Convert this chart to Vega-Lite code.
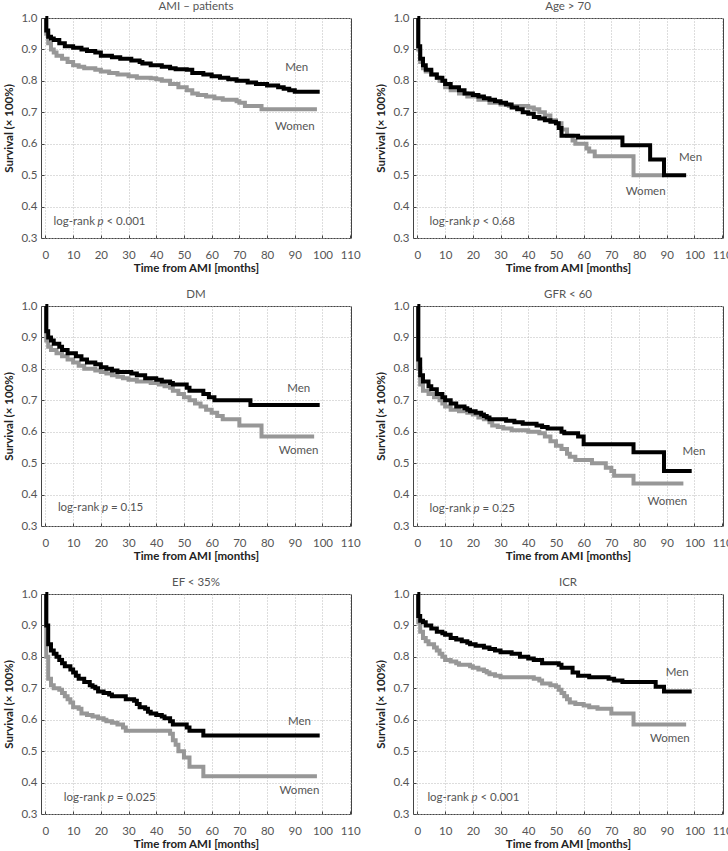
{
"$schema": "https://vega.github.io/schema/vega-lite/v6.json",
"padding": {"left": 3, "top": 0, "right": 5, "bottom": 0},
"background": "white",
"datasets": {"km": [
{"p":"AMI","g":"Women","t":0,"s":1},{"p":"AMI","g":"Women","t":0.3,"s":0.95},{"p":"AMI","g":"Women","t":1,"s":0.92},{"p":"AMI","g":"Women","t":2,"s":0.9},{"p":"AMI","g":"Women","t":3,"s":0.89},{"p":"AMI","g":"Women","t":4,"s":0.88},{"p":"AMI","g":"Women","t":6,"s":0.87},{"p":"AMI","g":"Women","t":8,"s":0.86},{"p":"AMI","g":"Women","t":10,"s":0.85},{"p":"AMI","g":"Women","t":12,"s":0.845},{"p":"AMI","g":"Women","t":14,"s":0.84},{"p":"AMI","g":"Women","t":18,"s":0.835},{"p":"AMI","g":"Women","t":20,"s":0.83},{"p":"AMI","g":"Women","t":23,"s":0.825},{"p":"AMI","g":"Women","t":26,"s":0.82},{"p":"AMI","g":"Women","t":30,"s":0.815},{"p":"AMI","g":"Women","t":33,"s":0.81},{"p":"AMI","g":"Women","t":38,"s":0.808},{"p":"AMI","g":"Women","t":40,"s":0.805},{"p":"AMI","g":"Women","t":42,"s":0.8},{"p":"AMI","g":"Women","t":45,"s":0.79},{"p":"AMI","g":"Women","t":48,"s":0.78},{"p":"AMI","g":"Women","t":51,"s":0.77},{"p":"AMI","g":"Women","t":53,"s":0.76},{"p":"AMI","g":"Women","t":55,"s":0.755},{"p":"AMI","g":"Women","t":58,"s":0.75},{"p":"AMI","g":"Women","t":61,"s":0.745},{"p":"AMI","g":"Women","t":64,"s":0.74},{"p":"AMI","g":"Women","t":69,"s":0.735},{"p":"AMI","g":"Women","t":70,"s":0.73},{"p":"AMI","g":"Women","t":72,"s":0.72},{"p":"AMI","g":"Women","t":78,"s":0.71},{"p":"AMI","g":"Women","t":98,"s":0.71},
{"p":"AMI","g":"Men","t":0,"s":1},{"p":"AMI","g":"Men","t":0.3,"s":0.96},{"p":"AMI","g":"Men","t":1,"s":0.94},{"p":"AMI","g":"Men","t":2,"s":0.935},{"p":"AMI","g":"Men","t":3,"s":0.93},{"p":"AMI","g":"Men","t":5,"s":0.92},{"p":"AMI","g":"Men","t":7,"s":0.91},{"p":"AMI","g":"Men","t":10,"s":0.905},{"p":"AMI","g":"Men","t":13,"s":0.9},{"p":"AMI","g":"Men","t":15,"s":0.895},{"p":"AMI","g":"Men","t":18,"s":0.89},{"p":"AMI","g":"Men","t":20,"s":0.88},{"p":"AMI","g":"Men","t":24,"s":0.875},{"p":"AMI","g":"Men","t":27,"s":0.87},{"p":"AMI","g":"Men","t":31,"s":0.865},{"p":"AMI","g":"Men","t":34,"s":0.86},{"p":"AMI","g":"Men","t":35,"s":0.855},{"p":"AMI","g":"Men","t":38,"s":0.85},{"p":"AMI","g":"Men","t":42,"s":0.845},{"p":"AMI","g":"Men","t":45,"s":0.84},{"p":"AMI","g":"Men","t":47,"s":0.837},{"p":"AMI","g":"Men","t":51,"s":0.835},{"p":"AMI","g":"Men","t":53,"s":0.825},{"p":"AMI","g":"Men","t":57,"s":0.82},{"p":"AMI","g":"Men","t":60,"s":0.815},{"p":"AMI","g":"Men","t":63,"s":0.81},{"p":"AMI","g":"Men","t":66,"s":0.805},{"p":"AMI","g":"Men","t":69,"s":0.8},{"p":"AMI","g":"Men","t":73,"s":0.795},{"p":"AMI","g":"Men","t":76,"s":0.79},{"p":"AMI","g":"Men","t":80,"s":0.785},{"p":"AMI","g":"Men","t":84,"s":0.78},{"p":"AMI","g":"Men","t":86,"s":0.775},{"p":"AMI","g":"Men","t":88,"s":0.77},{"p":"AMI","g":"Men","t":90,"s":0.765},{"p":"AMI","g":"Men","t":99,"s":0.765},
{"p":"Age","g":"Women","t":0,"s":1},{"p":"Age","g":"Women","t":0.3,"s":0.9},{"p":"Age","g":"Women","t":1,"s":0.86},{"p":"Age","g":"Women","t":2,"s":0.84},{"p":"Age","g":"Women","t":3,"s":0.83},{"p":"Age","g":"Women","t":5,"s":0.82},{"p":"Age","g":"Women","t":7,"s":0.81},{"p":"Age","g":"Women","t":8,"s":0.8},{"p":"Age","g":"Women","t":10,"s":0.78},{"p":"Age","g":"Women","t":12,"s":0.77},{"p":"Age","g":"Women","t":15,"s":0.76},{"p":"Age","g":"Women","t":18,"s":0.75},{"p":"Age","g":"Women","t":22,"s":0.74},{"p":"Age","g":"Women","t":26,"s":0.73},{"p":"Age","g":"Women","t":30,"s":0.725},{"p":"Age","g":"Women","t":33,"s":0.72},{"p":"Age","g":"Women","t":40,"s":0.715},{"p":"Age","g":"Women","t":42,"s":0.71},{"p":"Age","g":"Women","t":44,"s":0.7},{"p":"Age","g":"Women","t":46,"s":0.69},{"p":"Age","g":"Women","t":48,"s":0.675},{"p":"Age","g":"Women","t":50,"s":0.665},{"p":"Age","g":"Women","t":52,"s":0.645},{"p":"Age","g":"Women","t":54,"s":0.625},{"p":"Age","g":"Women","t":56,"s":0.61},{"p":"Age","g":"Women","t":57,"s":0.6},{"p":"Age","g":"Women","t":61,"s":0.585},{"p":"Age","g":"Women","t":62,"s":0.575},{"p":"Age","g":"Women","t":64,"s":0.56},{"p":"Age","g":"Women","t":78,"s":0.5},{"p":"Age","g":"Women","t":89,"s":0.5},
{"p":"Age","g":"Men","t":0,"s":1},{"p":"Age","g":"Men","t":0.3,"s":0.91},{"p":"Age","g":"Men","t":1,"s":0.87},{"p":"Age","g":"Men","t":2,"s":0.85},{"p":"Age","g":"Men","t":3,"s":0.835},{"p":"Age","g":"Men","t":5,"s":0.82},{"p":"Age","g":"Men","t":7,"s":0.81},{"p":"Age","g":"Men","t":9,"s":0.8},{"p":"Age","g":"Men","t":10,"s":0.79},{"p":"Age","g":"Men","t":12,"s":0.78},{"p":"Age","g":"Men","t":15,"s":0.77},{"p":"Age","g":"Men","t":17,"s":0.76},{"p":"Age","g":"Men","t":20,"s":0.755},{"p":"Age","g":"Men","t":22,"s":0.75},{"p":"Age","g":"Men","t":24,"s":0.745},{"p":"Age","g":"Men","t":26,"s":0.74},{"p":"Age","g":"Men","t":28,"s":0.735},{"p":"Age","g":"Men","t":30,"s":0.73},{"p":"Age","g":"Men","t":32,"s":0.725},{"p":"Age","g":"Men","t":34,"s":0.715},{"p":"Age","g":"Men","t":36,"s":0.71},{"p":"Age","g":"Men","t":38,"s":0.7},{"p":"Age","g":"Men","t":40,"s":0.695},{"p":"Age","g":"Men","t":42,"s":0.685},{"p":"Age","g":"Men","t":44,"s":0.68},{"p":"Age","g":"Men","t":46,"s":0.675},{"p":"Age","g":"Men","t":48,"s":0.67},{"p":"Age","g":"Men","t":50,"s":0.665},{"p":"Age","g":"Men","t":51,"s":0.65},{"p":"Age","g":"Men","t":52,"s":0.625},{"p":"Age","g":"Men","t":58,"s":0.62},{"p":"Age","g":"Men","t":74,"s":0.595},{"p":"Age","g":"Men","t":84,"s":0.55},{"p":"Age","g":"Men","t":89,"s":0.5},{"p":"Age","g":"Men","t":97,"s":0.5},
{"p":"DM","g":"Women","t":0,"s":1},{"p":"DM","g":"Women","t":0.3,"s":0.89},{"p":"DM","g":"Women","t":1,"s":0.87},{"p":"DM","g":"Women","t":2,"s":0.86},{"p":"DM","g":"Women","t":4,"s":0.85},{"p":"DM","g":"Women","t":6,"s":0.84},{"p":"DM","g":"Women","t":8,"s":0.83},{"p":"DM","g":"Women","t":10,"s":0.82},{"p":"DM","g":"Women","t":12,"s":0.81},{"p":"DM","g":"Women","t":14,"s":0.8},{"p":"DM","g":"Women","t":18,"s":0.795},{"p":"DM","g":"Women","t":20,"s":0.79},{"p":"DM","g":"Women","t":22,"s":0.785},{"p":"DM","g":"Women","t":24,"s":0.78},{"p":"DM","g":"Women","t":26,"s":0.775},{"p":"DM","g":"Women","t":28,"s":0.77},{"p":"DM","g":"Women","t":30,"s":0.765},{"p":"DM","g":"Women","t":33,"s":0.76},{"p":"DM","g":"Women","t":38,"s":0.755},{"p":"DM","g":"Women","t":41,"s":0.75},{"p":"DM","g":"Women","t":43,"s":0.745},{"p":"DM","g":"Women","t":45,"s":0.74},{"p":"DM","g":"Women","t":46,"s":0.73},{"p":"DM","g":"Women","t":48,"s":0.72},{"p":"DM","g":"Women","t":50,"s":0.71},{"p":"DM","g":"Women","t":52,"s":0.7},{"p":"DM","g":"Women","t":54,"s":0.69},{"p":"DM","g":"Women","t":56,"s":0.68},{"p":"DM","g":"Women","t":58,"s":0.67},{"p":"DM","g":"Women","t":60,"s":0.66},{"p":"DM","g":"Women","t":62,"s":0.65},{"p":"DM","g":"Women","t":64,"s":0.64},{"p":"DM","g":"Women","t":70,"s":0.62},{"p":"DM","g":"Women","t":78,"s":0.585},{"p":"DM","g":"Women","t":97,"s":0.585},
{"p":"DM","g":"Men","t":0,"s":1},{"p":"DM","g":"Men","t":0.3,"s":0.92},{"p":"DM","g":"Men","t":1,"s":0.9},{"p":"DM","g":"Men","t":2,"s":0.89},{"p":"DM","g":"Men","t":3,"s":0.88},{"p":"DM","g":"Men","t":5,"s":0.87},{"p":"DM","g":"Men","t":6,"s":0.86},{"p":"DM","g":"Men","t":8,"s":0.85},{"p":"DM","g":"Men","t":11,"s":0.84},{"p":"DM","g":"Men","t":13,"s":0.83},{"p":"DM","g":"Men","t":15,"s":0.82},{"p":"DM","g":"Men","t":18,"s":0.815},{"p":"DM","g":"Men","t":20,"s":0.805},{"p":"DM","g":"Men","t":22,"s":0.8},{"p":"DM","g":"Men","t":24,"s":0.795},{"p":"DM","g":"Men","t":26,"s":0.79},{"p":"DM","g":"Men","t":31,"s":0.785},{"p":"DM","g":"Men","t":33,"s":0.78},{"p":"DM","g":"Men","t":36,"s":0.77},{"p":"DM","g":"Men","t":40,"s":0.765},{"p":"DM","g":"Men","t":42,"s":0.76},{"p":"DM","g":"Men","t":45,"s":0.755},{"p":"DM","g":"Men","t":46,"s":0.75},{"p":"DM","g":"Men","t":51,"s":0.74},{"p":"DM","g":"Men","t":52,"s":0.73},{"p":"DM","g":"Men","t":57,"s":0.72},{"p":"DM","g":"Men","t":59,"s":0.71},{"p":"DM","g":"Men","t":61,"s":0.7},{"p":"DM","g":"Men","t":74,"s":0.685},{"p":"DM","g":"Men","t":99,"s":0.685},
{"p":"GFR","g":"Women","t":0,"s":1},{"p":"GFR","g":"Women","t":0.3,"s":0.8},{"p":"GFR","g":"Women","t":1,"s":0.75},{"p":"GFR","g":"Women","t":2,"s":0.73},{"p":"GFR","g":"Women","t":4,"s":0.72},{"p":"GFR","g":"Women","t":6,"s":0.71},{"p":"GFR","g":"Women","t":8,"s":0.7},{"p":"GFR","g":"Women","t":9,"s":0.69},{"p":"GFR","g":"Women","t":10,"s":0.68},{"p":"GFR","g":"Women","t":12,"s":0.67},{"p":"GFR","g":"Women","t":15,"s":0.665},{"p":"GFR","g":"Women","t":18,"s":0.66},{"p":"GFR","g":"Women","t":20,"s":0.655},{"p":"GFR","g":"Women","t":22,"s":0.645},{"p":"GFR","g":"Women","t":24,"s":0.64},{"p":"GFR","g":"Women","t":26,"s":0.63},{"p":"GFR","g":"Women","t":27,"s":0.62},{"p":"GFR","g":"Women","t":29,"s":0.615},{"p":"GFR","g":"Women","t":31,"s":0.61},{"p":"GFR","g":"Women","t":34,"s":0.605},{"p":"GFR","g":"Women","t":40,"s":0.6},{"p":"GFR","g":"Women","t":44,"s":0.595},{"p":"GFR","g":"Women","t":46,"s":0.585},{"p":"GFR","g":"Women","t":48,"s":0.57},{"p":"GFR","g":"Women","t":50,"s":0.555},{"p":"GFR","g":"Women","t":52,"s":0.545},{"p":"GFR","g":"Women","t":54,"s":0.53},{"p":"GFR","g":"Women","t":55,"s":0.52},{"p":"GFR","g":"Women","t":57,"s":0.51},{"p":"GFR","g":"Women","t":63,"s":0.5},{"p":"GFR","g":"Women","t":68,"s":0.485},{"p":"GFR","g":"Women","t":70,"s":0.475},{"p":"GFR","g":"Women","t":71,"s":0.46},{"p":"GFR","g":"Women","t":78,"s":0.435},{"p":"GFR","g":"Women","t":96,"s":0.435},
{"p":"GFR","g":"Men","t":0,"s":1},{"p":"GFR","g":"Men","t":0.3,"s":0.83},{"p":"GFR","g":"Men","t":1,"s":0.78},{"p":"GFR","g":"Men","t":2,"s":0.76},{"p":"GFR","g":"Men","t":4,"s":0.745},{"p":"GFR","g":"Men","t":5,"s":0.735},{"p":"GFR","g":"Men","t":7,"s":0.72},{"p":"GFR","g":"Men","t":9,"s":0.71},{"p":"GFR","g":"Men","t":10,"s":0.7},{"p":"GFR","g":"Men","t":12,"s":0.69},{"p":"GFR","g":"Men","t":14,"s":0.68},{"p":"GFR","g":"Men","t":17,"s":0.675},{"p":"GFR","g":"Men","t":18,"s":0.67},{"p":"GFR","g":"Men","t":19,"s":0.665},{"p":"GFR","g":"Men","t":21,"s":0.66},{"p":"GFR","g":"Men","t":23,"s":0.655},{"p":"GFR","g":"Men","t":24,"s":0.65},{"p":"GFR","g":"Men","t":25,"s":0.645},{"p":"GFR","g":"Men","t":26,"s":0.64},{"p":"GFR","g":"Men","t":32,"s":0.635},{"p":"GFR","g":"Men","t":35,"s":0.63},{"p":"GFR","g":"Men","t":38,"s":0.625},{"p":"GFR","g":"Men","t":43,"s":0.62},{"p":"GFR","g":"Men","t":45,"s":0.615},{"p":"GFR","g":"Men","t":47,"s":0.61},{"p":"GFR","g":"Men","t":52,"s":0.6},{"p":"GFR","g":"Men","t":53,"s":0.595},{"p":"GFR","g":"Men","t":58,"s":0.585},{"p":"GFR","g":"Men","t":60,"s":0.56},{"p":"GFR","g":"Men","t":78,"s":0.535},{"p":"GFR","g":"Men","t":89,"s":0.475},{"p":"GFR","g":"Men","t":99,"s":0.475},
{"p":"EF","g":"Women","t":0,"s":1},{"p":"EF","g":"Women","t":0.3,"s":0.8},{"p":"EF","g":"Women","t":1,"s":0.73},{"p":"EF","g":"Women","t":2,"s":0.71},{"p":"EF","g":"Women","t":3,"s":0.7},{"p":"EF","g":"Women","t":5,"s":0.695},{"p":"EF","g":"Women","t":6,"s":0.685},{"p":"EF","g":"Women","t":7,"s":0.675},{"p":"EF","g":"Women","t":8,"s":0.665},{"p":"EF","g":"Women","t":9,"s":0.655},{"p":"EF","g":"Women","t":10,"s":0.64},{"p":"EF","g":"Women","t":12,"s":0.635},{"p":"EF","g":"Women","t":13,"s":0.62},{"p":"EF","g":"Women","t":15,"s":0.615},{"p":"EF","g":"Women","t":17,"s":0.61},{"p":"EF","g":"Women","t":19,"s":0.605},{"p":"EF","g":"Women","t":21,"s":0.6},{"p":"EF","g":"Women","t":22,"s":0.595},{"p":"EF","g":"Women","t":24,"s":0.59},{"p":"EF","g":"Women","t":26,"s":0.585},{"p":"EF","g":"Women","t":28,"s":0.575},{"p":"EF","g":"Women","t":29,"s":0.565},{"p":"EF","g":"Women","t":45,"s":0.555},{"p":"EF","g":"Women","t":46,"s":0.535},{"p":"EF","g":"Women","t":47,"s":0.52},{"p":"EF","g":"Women","t":48,"s":0.5},{"p":"EF","g":"Women","t":50,"s":0.48},{"p":"EF","g":"Women","t":52,"s":0.45},{"p":"EF","g":"Women","t":57,"s":0.42},{"p":"EF","g":"Women","t":98,"s":0.42},
{"p":"EF","g":"Men","t":0,"s":1},{"p":"EF","g":"Men","t":0.3,"s":0.9},{"p":"EF","g":"Men","t":1,"s":0.84},{"p":"EF","g":"Men","t":2,"s":0.82},{"p":"EF","g":"Men","t":3,"s":0.81},{"p":"EF","g":"Men","t":4,"s":0.8},{"p":"EF","g":"Men","t":5,"s":0.79},{"p":"EF","g":"Men","t":6,"s":0.78},{"p":"EF","g":"Men","t":7,"s":0.77},{"p":"EF","g":"Men","t":9,"s":0.76},{"p":"EF","g":"Men","t":10,"s":0.75},{"p":"EF","g":"Men","t":11,"s":0.74},{"p":"EF","g":"Men","t":12,"s":0.73},{"p":"EF","g":"Men","t":14,"s":0.72},{"p":"EF","g":"Men","t":16,"s":0.71},{"p":"EF","g":"Men","t":17,"s":0.705},{"p":"EF","g":"Men","t":18,"s":0.7},{"p":"EF","g":"Men","t":19,"s":0.69},{"p":"EF","g":"Men","t":21,"s":0.685},{"p":"EF","g":"Men","t":23,"s":0.68},{"p":"EF","g":"Men","t":24,"s":0.675},{"p":"EF","g":"Men","t":29,"s":0.665},{"p":"EF","g":"Men","t":32,"s":0.66},{"p":"EF","g":"Men","t":33,"s":0.65},{"p":"EF","g":"Men","t":34,"s":0.64},{"p":"EF","g":"Men","t":36,"s":0.635},{"p":"EF","g":"Men","t":37,"s":0.625},{"p":"EF","g":"Men","t":38,"s":0.62},{"p":"EF","g":"Men","t":40,"s":0.615},{"p":"EF","g":"Men","t":42,"s":0.61},{"p":"EF","g":"Men","t":43,"s":0.605},{"p":"EF","g":"Men","t":45,"s":0.595},{"p":"EF","g":"Men","t":46,"s":0.585},{"p":"EF","g":"Men","t":51,"s":0.575},{"p":"EF","g":"Men","t":52,"s":0.565},{"p":"EF","g":"Men","t":57,"s":0.55},{"p":"EF","g":"Men","t":99,"s":0.55},
{"p":"ICR","g":"Women","t":0,"s":1},{"p":"ICR","g":"Women","t":0.3,"s":0.91},{"p":"ICR","g":"Women","t":1,"s":0.88},{"p":"ICR","g":"Women","t":2,"s":0.86},{"p":"ICR","g":"Women","t":3,"s":0.85},{"p":"ICR","g":"Women","t":4,"s":0.84},{"p":"ICR","g":"Women","t":6,"s":0.83},{"p":"ICR","g":"Women","t":7,"s":0.82},{"p":"ICR","g":"Women","t":8,"s":0.81},{"p":"ICR","g":"Women","t":9,"s":0.8},{"p":"ICR","g":"Women","t":10,"s":0.79},{"p":"ICR","g":"Women","t":12,"s":0.785},{"p":"ICR","g":"Women","t":14,"s":0.78},{"p":"ICR","g":"Women","t":15,"s":0.775},{"p":"ICR","g":"Women","t":19,"s":0.77},{"p":"ICR","g":"Women","t":20,"s":0.765},{"p":"ICR","g":"Women","t":22,"s":0.76},{"p":"ICR","g":"Women","t":24,"s":0.755},{"p":"ICR","g":"Women","t":25,"s":0.75},{"p":"ICR","g":"Women","t":26,"s":0.745},{"p":"ICR","g":"Women","t":28,"s":0.74},{"p":"ICR","g":"Women","t":30,"s":0.735},{"p":"ICR","g":"Women","t":42,"s":0.73},{"p":"ICR","g":"Women","t":44,"s":0.725},{"p":"ICR","g":"Women","t":45,"s":0.715},{"p":"ICR","g":"Women","t":48,"s":0.71},{"p":"ICR","g":"Women","t":50,"s":0.705},{"p":"ICR","g":"Women","t":51,"s":0.695},{"p":"ICR","g":"Women","t":52,"s":0.685},{"p":"ICR","g":"Women","t":53,"s":0.675},{"p":"ICR","g":"Women","t":54,"s":0.665},{"p":"ICR","g":"Women","t":55,"s":0.655},{"p":"ICR","g":"Women","t":57,"s":0.65},{"p":"ICR","g":"Women","t":60,"s":0.645},{"p":"ICR","g":"Women","t":62,"s":0.64},{"p":"ICR","g":"Women","t":65,"s":0.635},{"p":"ICR","g":"Women","t":70,"s":0.62},{"p":"ICR","g":"Women","t":78,"s":0.585},{"p":"ICR","g":"Women","t":97,"s":0.585},
{"p":"ICR","g":"Men","t":0,"s":1},{"p":"ICR","g":"Men","t":0.3,"s":0.93},{"p":"ICR","g":"Men","t":1,"s":0.915},{"p":"ICR","g":"Men","t":2,"s":0.91},{"p":"ICR","g":"Men","t":3,"s":0.9},{"p":"ICR","g":"Men","t":5,"s":0.89},{"p":"ICR","g":"Men","t":7,"s":0.88},{"p":"ICR","g":"Men","t":9,"s":0.875},{"p":"ICR","g":"Men","t":10,"s":0.87},{"p":"ICR","g":"Men","t":12,"s":0.86},{"p":"ICR","g":"Men","t":14,"s":0.855},{"p":"ICR","g":"Men","t":16,"s":0.85},{"p":"ICR","g":"Men","t":18,"s":0.845},{"p":"ICR","g":"Men","t":19,"s":0.84},{"p":"ICR","g":"Men","t":21,"s":0.835},{"p":"ICR","g":"Men","t":24,"s":0.83},{"p":"ICR","g":"Men","t":26,"s":0.825},{"p":"ICR","g":"Men","t":28,"s":0.82},{"p":"ICR","g":"Men","t":30,"s":0.815},{"p":"ICR","g":"Men","t":34,"s":0.81},{"p":"ICR","g":"Men","t":37,"s":0.8},{"p":"ICR","g":"Men","t":40,"s":0.795},{"p":"ICR","g":"Men","t":42,"s":0.79},{"p":"ICR","g":"Men","t":45,"s":0.78},{"p":"ICR","g":"Men","t":51,"s":0.775},{"p":"ICR","g":"Men","t":52,"s":0.765},{"p":"ICR","g":"Men","t":56,"s":0.75},{"p":"ICR","g":"Men","t":58,"s":0.74},{"p":"ICR","g":"Men","t":62,"s":0.735},{"p":"ICR","g":"Men","t":69,"s":0.73},{"p":"ICR","g":"Men","t":71,"s":0.725},{"p":"ICR","g":"Men","t":74,"s":0.72},{"p":"ICR","g":"Men","t":86,"s":0.705},{"p":"ICR","g":"Men","t":89,"s":0.69},{"p":"ICR","g":"Men","t":99,"s":0.69}
]},
"columns": 2,
"spacing": {"row": 68, "column": 62},
"bounds": "flush",
"concat": [
{"title": "AMI – patients", "width": 310, "height": 220, "layer": [
 {"data": {"name": "km"}, "transform": [{"filter": "datum.p === 'AMI'"}], "mark": {"type": "line", "interpolate": "step-after", "strokeWidth": 4}, "encoding": {"x": {"field": "t", "type": "quantitative", "title": "Time from AMI [months]", "scale": {"domain": [-1.6, 110.3], "nice": false}, "axis": {"values": [0,10,20,30,40,50,60,70,80,90,100,110], "tickCount": 12, "labelOverlap": false}}, "y": {"field": "s", "type": "quantitative", "title": "Survival (× 100%)", "scale": {"domain": [0.3, 1], "nice": false, "zero": false}, "axis": {"values": [0.3,0.4,0.5,0.6,0.7,0.8,0.9,1], "tickCount": 8, "format": ".1f", "labelOverlap": false}}, "color": {"field": "g", "type": "nominal", "scale": {"domain": ["Men", "Women"], "range": ["#000000", "#979797"]}, "legend": null}}},
 {"data": {"values": [{}]}, "mark": {"type": "text"}, "encoding": {"x": {"datum": 90.7}, "y": {"datum": 0.84}, "text": {"value": "Men"}}},
 {"data": {"values": [{}]}, "mark": {"type": "text"}, "encoding": {"x": {"datum": 90}, "y": {"datum": 0.652}, "text": {"value": "Women"}}},
 {"data": {"values": [{}]}, "mark": {"type": "text", "align": "left"}, "encoding": {"x": {"datum": 2.9}, "y": {"datum": 0.352}, "text": {"value": "log-rank"}}},
 {"data": {"values": [{}]}, "mark": {"type": "text", "align": "left", "fontStyle": "italic", "dx": 44}, "encoding": {"x": {"datum": 2.9}, "y": {"datum": 0.352}, "text": {"value": "p"}}},
 {"data": {"values": [{}]}, "mark": {"type": "text", "align": "left", "dx": 53}, "encoding": {"x": {"datum": 2.9}, "y": {"datum": 0.352}, "text": {"value": "< 0.001"}}}
]},
{"title": "Age > 70", "width": 310, "height": 220, "layer": [
 {"data": {"name": "km"}, "transform": [{"filter": "datum.p === 'Age'"}], "mark": {"type": "line", "interpolate": "step-after", "strokeWidth": 4}, "encoding": {"x": {"field": "t", "type": "quantitative", "title": "Time from AMI [months]", "scale": {"domain": [-1.6, 110.3], "nice": false}, "axis": {"values": [0,10,20,30,40,50,60,70,80,90,100,110], "tickCount": 12, "labelOverlap": false}}, "y": {"field": "s", "type": "quantitative", "title": "Survival (× 100%)", "scale": {"domain": [0.3, 1], "nice": false, "zero": false}, "axis": {"values": [0.3,0.4,0.5,0.6,0.7,0.8,0.9,1], "tickCount": 8, "format": ".1f", "labelOverlap": false}}, "color": {"field": "g", "type": "nominal", "scale": {"domain": ["Men", "Women"], "range": ["#000000", "#979797"]}, "legend": null}}},
 {"data": {"values": [{}]}, "mark": {"type": "text"}, "encoding": {"x": {"datum": 98.6}, "y": {"datum": 0.555}, "text": {"value": "Men"}}},
 {"data": {"values": [{}]}, "mark": {"type": "text"}, "encoding": {"x": {"datum": 82.4}, "y": {"datum": 0.447}, "text": {"value": "Women"}}},
 {"data": {"values": [{}]}, "mark": {"type": "text", "align": "left"}, "encoding": {"x": {"datum": 4.4}, "y": {"datum": 0.35}, "text": {"value": "log-rank"}}},
 {"data": {"values": [{}]}, "mark": {"type": "text", "align": "left", "fontStyle": "italic", "dx": 44}, "encoding": {"x": {"datum": 4.4}, "y": {"datum": 0.35}, "text": {"value": "p"}}},
 {"data": {"values": [{}]}, "mark": {"type": "text", "align": "left", "dx": 53}, "encoding": {"x": {"datum": 4.4}, "y": {"datum": 0.35}, "text": {"value": "< 0.68"}}}
]},
{"title": "DM", "width": 310, "height": 220, "layer": [
 {"data": {"name": "km"}, "transform": [{"filter": "datum.p === 'DM'"}], "mark": {"type": "line", "interpolate": "step-after", "strokeWidth": 4}, "encoding": {"x": {"field": "t", "type": "quantitative", "title": "Time from AMI [months]", "scale": {"domain": [-1.6, 110.3], "nice": false}, "axis": {"values": [0,10,20,30,40,50,60,70,80,90,100,110], "tickCount": 12, "labelOverlap": false}}, "y": {"field": "s", "type": "quantitative", "title": "Survival (× 100%)", "scale": {"domain": [0.3, 1], "nice": false, "zero": false}, "axis": {"values": [0.3,0.4,0.5,0.6,0.7,0.8,0.9,1], "tickCount": 8, "format": ".1f", "labelOverlap": false}}, "color": {"field": "g", "type": "nominal", "scale": {"domain": ["Men", "Women"], "range": ["#000000", "#979797"]}, "legend": null}}},
 {"data": {"values": [{}]}, "mark": {"type": "text"}, "encoding": {"x": {"datum": 91.4}, "y": {"datum": 0.736}, "text": {"value": "Men"}}},
 {"data": {"values": [{}]}, "mark": {"type": "text"}, "encoding": {"x": {"datum": 91.4}, "y": {"datum": 0.538}, "text": {"value": "Women"}}},
 {"data": {"values": [{}]}, "mark": {"type": "text", "align": "left"}, "encoding": {"x": {"datum": 4.5}, "y": {"datum": 0.358}, "text": {"value": "log-rank"}}},
 {"data": {"values": [{}]}, "mark": {"type": "text", "align": "left", "fontStyle": "italic", "dx": 44}, "encoding": {"x": {"datum": 4.5}, "y": {"datum": 0.358}, "text": {"value": "p"}}},
 {"data": {"values": [{}]}, "mark": {"type": "text", "align": "left", "dx": 53}, "encoding": {"x": {"datum": 4.5}, "y": {"datum": 0.358}, "text": {"value": "= 0.15"}}}
]},
{"title": "GFR < 60", "width": 310, "height": 220, "layer": [
 {"data": {"name": "km"}, "transform": [{"filter": "datum.p === 'GFR'"}], "mark": {"type": "line", "interpolate": "step-after", "strokeWidth": 4}, "encoding": {"x": {"field": "t", "type": "quantitative", "title": "Time from AMI [months]", "scale": {"domain": [-1.6, 110.3], "nice": false}, "axis": {"values": [0,10,20,30,40,50,60,70,80,90,100,110], "tickCount": 12, "labelOverlap": false}}, "y": {"field": "s", "type": "quantitative", "title": "Survival (× 100%)", "scale": {"domain": [0.3, 1], "nice": false, "zero": false}, "axis": {"values": [0.3,0.4,0.5,0.6,0.7,0.8,0.9,1], "tickCount": 8, "format": ".1f", "labelOverlap": false}}, "color": {"field": "g", "type": "nominal", "scale": {"domain": ["Men", "Women"], "range": ["#000000", "#979797"]}, "legend": null}}},
 {"data": {"values": [{}]}, "mark": {"type": "text"}, "encoding": {"x": {"datum": 99.8}, "y": {"datum": 0.537}, "text": {"value": "Men"}}},
 {"data": {"values": [{}]}, "mark": {"type": "text"}, "encoding": {"x": {"datum": 90.2}, "y": {"datum": 0.375}, "text": {"value": "Women"}}},
 {"data": {"values": [{}]}, "mark": {"type": "text", "align": "left"}, "encoding": {"x": {"datum": 4.4}, "y": {"datum": 0.353}, "text": {"value": "log-rank"}}},
 {"data": {"values": [{}]}, "mark": {"type": "text", "align": "left", "fontStyle": "italic", "dx": 44}, "encoding": {"x": {"datum": 4.4}, "y": {"datum": 0.353}, "text": {"value": "p"}}},
 {"data": {"values": [{}]}, "mark": {"type": "text", "align": "left", "dx": 53}, "encoding": {"x": {"datum": 4.4}, "y": {"datum": 0.353}, "text": {"value": "= 0.25"}}}
]},
{"title": "EF < 35%", "width": 310, "height": 220, "layer": [
 {"data": {"name": "km"}, "transform": [{"filter": "datum.p === 'EF'"}], "mark": {"type": "line", "interpolate": "step-after", "strokeWidth": 4}, "encoding": {"x": {"field": "t", "type": "quantitative", "title": "Time from AMI [months]", "scale": {"domain": [-1.6, 110.3], "nice": false}, "axis": {"values": [0,10,20,30,40,50,60,70,80,90,100,110], "tickCount": 12, "labelOverlap": false}}, "y": {"field": "s", "type": "quantitative", "title": "Survival (× 100%)", "scale": {"domain": [0.3, 1], "nice": false, "zero": false}, "axis": {"values": [0.3,0.4,0.5,0.6,0.7,0.8,0.9,1], "tickCount": 8, "format": ".1f", "labelOverlap": false}}, "color": {"field": "g", "type": "nominal", "scale": {"domain": ["Men", "Women"], "range": ["#000000", "#979797"]}, "legend": null}}},
 {"data": {"values": [{}]}, "mark": {"type": "text"}, "encoding": {"x": {"datum": 91.7}, "y": {"datum": 0.594}, "text": {"value": "Men"}}},
 {"data": {"values": [{}]}, "mark": {"type": "text"}, "encoding": {"x": {"datum": 91.7}, "y": {"datum": 0.374}, "text": {"value": "Women"}}},
 {"data": {"values": [{}]}, "mark": {"type": "text", "align": "left"}, "encoding": {"x": {"datum": 6.6}, "y": {"datum": 0.351}, "text": {"value": "log-rank"}}},
 {"data": {"values": [{}]}, "mark": {"type": "text", "align": "left", "fontStyle": "italic", "dx": 44}, "encoding": {"x": {"datum": 6.6}, "y": {"datum": 0.351}, "text": {"value": "p"}}},
 {"data": {"values": [{}]}, "mark": {"type": "text", "align": "left", "dx": 53}, "encoding": {"x": {"datum": 6.6}, "y": {"datum": 0.351}, "text": {"value": "= 0.025"}}}
]},
{"title": "ICR", "width": 310, "height": 220, "layer": [
 {"data": {"name": "km"}, "transform": [{"filter": "datum.p === 'ICR'"}], "mark": {"type": "line", "interpolate": "step-after", "strokeWidth": 4}, "encoding": {"x": {"field": "t", "type": "quantitative", "title": "Time from AMI [months]", "scale": {"domain": [-1.6, 110.3], "nice": false}, "axis": {"values": [0,10,20,30,40,50,60,70,80,90,100,110], "tickCount": 12, "labelOverlap": false}}, "y": {"field": "s", "type": "quantitative", "title": "Survival (× 100%)", "scale": {"domain": [0.3, 1], "nice": false, "zero": false}, "axis": {"values": [0.3,0.4,0.5,0.6,0.7,0.8,0.9,1], "tickCount": 8, "format": ".1f", "labelOverlap": false}}, "color": {"field": "g", "type": "nominal", "scale": {"domain": ["Men", "Women"], "range": ["#000000", "#979797"]}, "legend": null}}},
 {"data": {"values": [{}]}, "mark": {"type": "text"}, "encoding": {"x": {"datum": 93.8}, "y": {"datum": 0.748}, "text": {"value": "Men"}}},
 {"data": {"values": [{}]}, "mark": {"type": "text"}, "encoding": {"x": {"datum": 91.1}, "y": {"datum": 0.54}, "text": {"value": "Women"}}},
 {"data": {"values": [{}]}, "mark": {"type": "text", "align": "left"}, "encoding": {"x": {"datum": 3.6}, "y": {"datum": 0.35}, "text": {"value": "log-rank"}}},
 {"data": {"values": [{}]}, "mark": {"type": "text", "align": "left", "fontStyle": "italic", "dx": 44}, "encoding": {"x": {"datum": 3.6}, "y": {"datum": 0.35}, "text": {"value": "p"}}},
 {"data": {"values": [{}]}, "mark": {"type": "text", "align": "left", "dx": 53}, "encoding": {"x": {"datum": 3.6}, "y": {"datum": 0.35}, "text": {"value": "< 0.001"}}}
]}
],
"config": {
 "font": "Lato",
 "view": {"stroke": "#444444", "strokeWidth": 1},
 "axis": {"labelFont": "Lato", "labelFontSize": 11.5, "labelColor": "#555555", "labelOverlap": false, "labelFlush": false, "labelBound": false, "titleFont": "Lato", "titleFontSize": 11.5, "titleFontWeight": "bold", "titleColor": "#222222", "gridColor": "#bbbbbb", "gridDash": [1, 2], "domain": false, "ticks": true, "tickSize": -3, "tickColor": "#444444"},
 "axisY": {"titlePadding": 6, "labelPadding": 7},
 "axisX": {"titlePadding": 2, "labelPadding": 14},
 "title": {"font": "Lato", "fontSize": 11.5, "fontWeight": "normal", "color": "#555555", "offset": -2, "frame": "group"},
 "text": {"font": "Lato", "fontSize": 11.5, "color": "#555555"}
}
}
